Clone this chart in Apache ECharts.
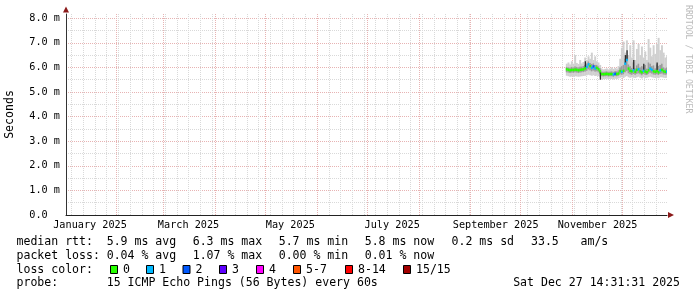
<!DOCTYPE html>
<html><head><meta charset="utf-8">
<script src="https://cdn.jsdelivr.net/npm/echarts@6/dist/echarts.min.js"></script>
<style>html,body{margin:0;padding:0;background:#fff}#c{width:697px;height:297px}</style>
</head><body><div id="c"></div>
<script>
// ---------------- data ----------------
const DAYS = ['2025-10-28','2025-10-29','2025-10-30','2025-10-31',
 '2025-11-01','2025-11-02','2025-11-03','2025-11-04','2025-11-05','2025-11-06','2025-11-07','2025-11-08','2025-11-09','2025-11-10',
 '2025-11-11','2025-11-12','2025-11-13','2025-11-14','2025-11-15','2025-11-16','2025-11-17','2025-11-18','2025-11-19','2025-11-20',
 '2025-11-21','2025-11-22','2025-11-23','2025-11-24','2025-11-25','2025-11-26','2025-11-27','2025-11-28','2025-11-29','2025-11-30',
 '2025-12-01','2025-12-02','2025-12-03','2025-12-04','2025-12-05','2025-12-06','2025-12-07','2025-12-08','2025-12-09','2025-12-10',
 '2025-12-11','2025-12-12','2025-12-13','2025-12-14','2025-12-15','2025-12-16','2025-12-17','2025-12-18','2025-12-19','2025-12-20',
 '2025-12-21','2025-12-22','2025-12-23','2025-12-24','2025-12-25','2025-12-26','2025-12-27'];
// median rtt (ms)
const MEDIAN = [5.92,5.90,5.88,5.90,5.89,5.91,5.90,5.88,5.90,5.91,5.92,5.96,6.02,6.12,6.05,5.98,6.04,5.96,5.98,5.92,
 5.84,5.73,5.72,5.73,5.74,5.72,5.73,5.73,5.71,5.74,5.73,5.75,
 5.85,5.82,5.86,6.15,6.30,5.95,5.86,5.84,5.88,5.82,5.90,5.92,5.84,5.80,5.86,5.83,5.80,5.88,5.95,5.90,5.84,5.82,5.85,5.80,5.88,5.90,5.84,5.82,5.83];
// loss colour class (index into LOSS_LABELS)
const LOSS = [0,0,0,0,0,0,0,0,0,0,0,0,1,1,0,1,2,1,0,0,
 0,0,0,0,0,0,0,0,1,2,0,0,
 0,1,0,1,1,0,0,0,1,0,0,1,0,0,1,0,0,0,1,1,0,0,0,0,1,0,0,0,1];
// smoke bands (ms)
const SMOKE_LO = [5.66,5.64,5.62,5.63,5.62,5.64,5.63,5.62,5.63,5.64,5.65,5.66,5.68,5.70,5.68,5.66,5.68,5.65,5.66,5.64,
 5.60,5.50,5.52,5.53,5.54,5.52,5.53,5.53,5.51,5.54,5.53,5.55,
 5.58,5.60,5.57,5.62,5.65,5.60,5.58,5.60,5.58,5.57,5.60,5.62,5.58,5.55,5.60,5.57,5.58,5.60,5.62,5.60,5.58,5.57,5.58,5.56,5.60,5.60,5.58,5.57,5.58];
const SMOKE_MID_LO = [5.80,5.79,5.77,5.79,5.78,5.80,5.79,5.77,5.79,5.80,5.81,5.83,5.86,5.92,5.88,5.84,5.87,5.83,5.84,5.80,
 5.74,5.64,5.63,5.64,5.65,5.63,5.64,5.64,5.62,5.65,5.64,5.66,
 5.72,5.70,5.72,5.80,5.85,5.76,5.72,5.70,5.73,5.70,5.74,5.76,5.72,5.68,5.73,5.70,5.69,5.74,5.78,5.75,5.71,5.70,5.72,5.69,5.74,5.75,5.71,5.70,5.71];
const SMOKE_MID_HI = [6.02,6.00,5.99,6.02,6.00,6.04,6.02,6.00,6.03,6.03,6.05,6.10,6.16,6.24,6.18,6.14,6.16,6.10,6.10,6.04,
 5.96,5.83,5.82,5.83,5.84,5.82,5.83,5.84,5.82,5.85,5.84,5.88,
 6.00,6.05,6.10,6.35,6.50,6.12,6.05,5.98,6.20,5.96,6.08,6.15,6.00,6.05,6.02,6.10,5.95,6.20,6.15,6.05,6.08,5.96,6.12,6.06,6.10,6.15,6.00,5.96,6.00];
const SMOKE_HI = [6.15,6.20,6.12,6.25,6.15,6.50,6.18,6.14,6.30,6.16,6.22,6.40,6.30,6.45,6.35,6.60,6.30,6.45,6.25,6.20,
 6.10,5.95,5.92,5.94,5.96,5.92,5.95,6.00,5.94,5.98,5.95,6.05,
 6.35,6.80,7.05,6.60,7.10,6.50,6.90,6.40,7.10,6.30,6.75,6.95,6.50,6.85,6.40,6.65,6.30,7.15,6.80,6.45,6.90,6.55,6.95,7.20,6.70,6.90,6.60,6.40,6.45];
// dark smoke streaks
const DARK_DAYS = ['2025-11-08','2025-11-17','2025-12-02','2025-12-03','2025-12-07','2025-12-13','2025-12-21'];
const DARK_LO = [5.96,5.50,6.15,6.30,5.88,5.86,5.85];
const DARK_HI = [6.25,5.84,6.50,6.70,6.30,6.15,6.20];

// axes
const Y_TICKS = [0,1,2,3,4,5,6,7,8];
const MONTH_STARTS = ['2025-01-01','2025-03-01','2025-05-01','2025-07-01','2025-09-01','2025-11-01'];
const MONTH_LABELS = ['January 2025','March 2025','May 2025','July 2025','September 2025','November 2025'];

// legend
const LOSS_LABELS = ['0','1','2','3','4','5-7','8-14','15/15'];
const LOSS_COLORS = ['#26ff00','#00b8ff','#0059ff','#5e00ff','#ff00ff','#ff5500','#ff0000','#a10000'];
const RTT_TEXTS = ['5.9 ms avg','6.3 ms max','5.7 ms min','5.8 ms now'];
const PLOSS_TEXTS = ['0.04 % avg','1.07 % max','0.00 % min','0.01 % now'];
const SD_TEXT = '0.2 ms sd';
const AMS_VALUE = '33.5';
const AMS_UNIT = 'am/s';
const PROBE_TEXT = '15 ICMP Echo Pings (56 Bytes) every 60s';
const STAMP_TEXT = 'Sat Dec 27 14:31:31 2025';
const WATERMARK = 'RRDTOOL / TOBI OETIKER';

// ---------------- layout / style ----------------
const FONT = '"DejaVu Sans Mono", monospace';
const DAY = 86400000;
const START = Date.UTC(2025,0,1,14,31,31);
const END = Date.UTC(2025,11,27,14,31,31);
const Y_MAX = 8.17;
const GRAY = '#d9d9d9', RED = '#e7b3b3', ARROW = '#8b1a1a';
const ts = s => Date.parse(s);

const labelTimes = MONTH_STARTS.map(s => ts(s) + 15 * DAY);
const monthLines = [];
for (let m = 1; m < 12; m++) monthLines.push(Date.UTC(2025, m, 1));
const weekLines = [];
for (let t = Date.UTC(2025,0,5); t < END; t += 7 * DAY) if (monthLines.indexOf(t) < 0) weekLines.push(t);
const halfTicks = Y_TICKS.slice(0, -1).map(v => v + 0.5);

const smokeData = DAYS.map((d, i) => [ts(d), SMOKE_LO[i], SMOKE_MID_LO[i], SMOKE_MID_HI[i], SMOKE_HI[i]]);
const darkData = DARK_DAYS.map((d, i) => [ts(d), DARK_LO[i], DARK_HI[i]]);
const medianData = DAYS.map((d, i) => [ts(d), MEDIAN[i], LOSS[i]]);

function colRect(api, t, v0, v1, fill, frac) {
  const a = api.coord([t, v0]);
  const b = api.coord([t + DAY * (frac || 1), v1]);
  return {type: 'rect', shape: {x: a[0], y: b[1], width: b[0] - a[0] + 0.3, height: a[1] - b[1]}, style: {fill}};
}

const baseX = {type: 'value', min: START, max: END, position: 'bottom', gridIndex: 0, scale: true};
const baseY = {type: 'value', min: 0, max: Y_MAX, position: 'left', gridIndex: 0};

// legend graphics
const LX0 = 16.5, LX = [106.7, 192.7, 278.7, 364.7];
const ROWS = [241.5, 255.5, 269.5, 283];
const BOX_X = [110, 146, 182.5, 219, 256, 293, 345, 403];
const txt = (x, y, text, align) => ({type: 'text', x, y, silent: true,
  style: {text, font: '11.55px ' + FONT, fill: '#000', align: align || 'left', verticalAlign: 'middle'}});
const g = [];
g.push(txt(LX0, ROWS[0], 'median rtt:'));
RTT_TEXTS.forEach((s, i) => g.push(txt(LX[i], ROWS[0], s)));
g.push(txt(451.5, ROWS[0], SD_TEXT));
g.push(txt(531, ROWS[0], AMS_VALUE));
g.push(txt(580.5, ROWS[0], AMS_UNIT));
g.push(txt(LX0, ROWS[1], 'packet loss:'));
PLOSS_TEXTS.forEach((s, i) => g.push(txt(LX[i], ROWS[1], s)));
g.push(txt(LX0, ROWS[2], 'loss color:'));
LOSS_LABELS.forEach((s, i) => {
  g.push({type: 'rect', silent: true, shape: {x: BOX_X[i] + 0.5, y: ROWS[2] - 4, width: 7, height: 8},
    style: {fill: LOSS_COLORS[i], stroke: '#000', lineWidth: 1}});
  g.push(txt(BOX_X[i] + 13, ROWS[2], s));
});
g.push(txt(LX0, ROWS[3], 'probe:'));
g.push(txt(LX[0], ROWS[3], PROBE_TEXT));
g.push(txt(680, ROWS[3], STAMP_TEXT, 'right'));
g.push({type: 'text', x: 688.5, y: 5, rotation: -Math.PI / 2, silent: true,
  style: {text: WATERMARK, font: '8.2px ' + FONT, fill: '#bbbbbb', align: 'left', verticalAlign: 'middle'}});

const option = {
  animation: false,
  backgroundColor: '#ffffff',
  grid: {left: 66, right: 30, top: 14, bottom: 82, outerBoundsMode: 'none'},
  xAxis: [
    Object.assign({}, baseX, {
      axisLine: {show: false}, axisTick: {show: false, customValues: weekLines}, axisLabel: {show: false},
      splitLine: {show: true, lineStyle: {color: GRAY, width: 1, type: [1, 1]}}
    }),
    Object.assign({}, baseX, {
      axisLine: {show: true, onZero: false, lineStyle: {color: '#222', width: 1}},
      axisTick: {show: false, customValues: monthLines},
      axisLabel: {show: true, customValues: labelTimes, margin: 5, fontFamily: FONT, fontSize: 10.2, color: '#000',
        formatter: v => MONTH_LABELS[labelTimes.indexOf(v)] || ''},
      splitLine: {show: true, lineStyle: {color: RED, width: 1, type: [1, 1]}}
    }),
    Object.assign({}, baseX, {
      axisLine: {show: true, onZero: false, symbol: ['none', 'triangle'], symbolSize: [6, 6], symbolOffset: [0, 4],
        lineStyle: {color: ARROW, width: 0}},
      axisTick: {show: false}, axisLabel: {show: false}, splitLine: {show: false}
    })
  ],
  yAxis: [
    Object.assign({}, baseY, {
      axisLine: {show: false}, axisTick: {show: false, customValues: halfTicks}, axisLabel: {show: false},
      splitLine: {show: true, lineStyle: {color: GRAY, width: 1, type: [1, 1]}}
    }),
    Object.assign({}, baseY, {
      name: 'Seconds', nameLocation: 'middle', nameGap: 50,
      nameTextStyle: {fontFamily: FONT, fontSize: 11.55, color: '#000'},
      axisLine: {show: true, lineStyle: {color: '#333', width: 1}},
      axisTick: {show: false, customValues: Y_TICKS},
      axisLabel: {show: true, customValues: Y_TICKS, margin: 6, fontFamily: FONT, fontSize: 10.2, color: '#000',
        formatter: v => v === 0 ? '0.0\u00a0\u00a0' : v.toFixed(1) + ' m'},
      splitLine: {show: true, lineStyle: {color: RED, width: 1, type: [1, 1]}}
    }),
    Object.assign({}, baseY, {
      axisLine: {show: true, symbol: ['none', 'triangle'], symbolSize: [6, 6], symbolOffset: [0, 4.5],
        lineStyle: {color: ARROW, width: 0}},
      axisTick: {show: false}, axisLabel: {show: false}, splitLine: {show: false}
    })
  ],
  series: [
    {type: 'custom', name: 'smoke', xAxisIndex: 1, yAxisIndex: 1, clip: true, silent: true, z: 2,
      encode: {x: 0, y: [1, 4]}, data: smokeData,
      renderItem: (params, api) => {
        const t = api.value(0);
        return {type: 'group', children: [
          colRect(api, t, api.value(1), api.value(4), '#d0d0d0'),
          colRect(api, t, api.value(2), api.value(3), '#9c9c9c')
        ]};
      }},
    {type: 'custom', name: 'dark', xAxisIndex: 1, yAxisIndex: 1, clip: true, silent: true, z: 3,
      encode: {x: 0, y: [1, 2]}, data: darkData,
      renderItem: (params, api) => colRect(api, api.value(0) + DAY * 0.3, api.value(1), api.value(2), '#2a2a2a', 0.6)},
    {type: 'custom', name: 'median', xAxisIndex: 1, yAxisIndex: 1, clip: true, silent: true, z: 4,
      encode: {x: 0, y: 1}, data: medianData,
      renderItem: (params, api) => {
        const t = api.value(0);
        const a = api.coord([t, api.value(1)]);
        const b = api.coord([t + DAY, api.value(1)]);
        return {type: 'rect', shape: {x: a[0], y: a[1] - 1.25, width: b[0] - a[0] + 0.3, height: 2.5},
          style: {fill: LOSS_COLORS[api.value(2)]}};
      }}
  ],
  graphic: g
};
const chart = echarts.init(document.getElementById('c'), null, {renderer: 'canvas'});
chart.setOption(option);
</script></body></html>
